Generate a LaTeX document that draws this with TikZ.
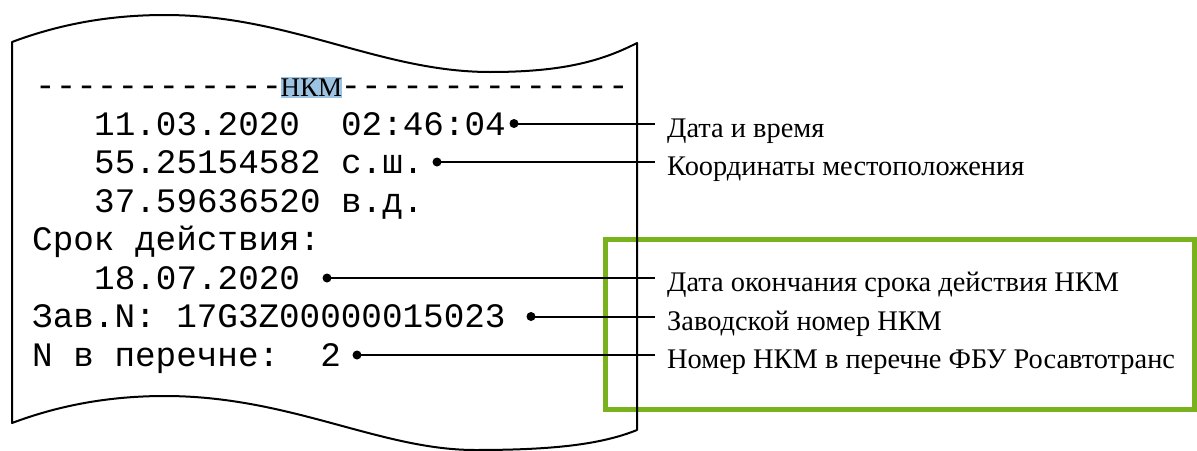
\documentclass[tikz,border=0pt]{standalone}
\usepackage{fontspec}
\setmainfont{Liberation Serif}
\setmonofont{Liberation Mono}
\definecolor{boxgreen}{RGB}{120,178,28}
\definecolor{hlblue}{RGB}{157,195,226}
\tikzset{
  mono/.style={font=\fontsize{34.3}{36}\selectfont\ttfamily, inner sep=0pt, anchor=base west},
  lbl/.style={font=\fontsize{28.4}{30}\selectfont, anchor=west, inner xsep=12pt, inner ysep=0pt, text height=27pt, text depth=0pt},
  dotn/.style={circle, fill, inner sep=0pt, minimum size=9pt},
  conn/.style={line width=2pt},
  paper/.style={line width=2pt, line join=round},
  greenbox/.style={draw=boxgreen, line width=5pt},
  hl/.style={fill=hlblue, font=\fontsize{27}{28}\selectfont, inner xsep=0pt, inner ysep=1.5pt, anchor=base west}
}
\begin{document}
\begin{tikzpicture}[x=1pt,y=-1pt]
\useasboundingbox (0,0) rectangle (1197,450);
% green frame
\draw[greenbox] (605.5,239.5) rectangle (1194,409.5);
% paper outline
\draw[paper] (12,42) .. controls (60,24) and (110,15) .. (165,15)
  .. controls (290,15) and (380,72) .. (490,72)
  .. controls (560,72) and (600,62) .. (637,43)
  -- (637,430)
  .. controls (600,445) and (550,450) .. (475,450)
  .. controls (380,450) and (290,396) .. (165,396)
  .. controls (110,396) and (60,405) .. (12,423) -- cycle;
% header
\node[mono] (dashA) at (35,96.5) {------------};
\node[hl] (nkm) at ([xshift=-2pt]dashA.base east) {НКМ};
\node[mono] (dashB) at ([xshift=-2pt]nkm.base east) {--------------};
% receipt lines
\node[mono] (t1) at (94,135) {11.03.2020~~02:46:04};
\node[mono] (t2) at (94,173.5) {55.25154582~с.ш.};
\node[mono] (t3) at (94,212) {37.59636520~в.д.};
\node[mono] (t4) at (32,250.5) {Срок~действия:};
\node[mono] (t5) at (94,289) {18.07.2020};
\node[mono] (t6) at (32,327.5) {Зав.N:~17G3Z00000015023};
\node[mono] (t7) at (32,366) {N~в~перечне:~~2};
% dots
\node[dotn] (d1) at (514,123.5) {};
\node[dotn] (d2) at (437,162) {};
\node[dotn] (d3) at (327,278) {};
\node[dotn] (d4) at (531,316.5) {};
\node[dotn] (d5) at (357,355) {};
% labels
\node[lbl] (l1) at (655,123.5) {Дата и время};
\node[lbl] (l2) at (655,162) {Координаты местоположения};
\node[lbl] (l5) at (655,278) {Дата окончания срока действия НКМ};
\node[lbl] (l6) at (655,316.5) {Заводской номер НКМ};
\node[lbl] (l7) at (655,355) {Номер НКМ в перечне ФБУ Росавтотранс};
% connectors
\draw[conn] (d1.center) -- (l1.west);
\draw[conn] (d2.center) -- (l2.west);
\draw[conn] (d3.center) -- (l5.west);
\draw[conn] (d4.center) -- (l6.west);
\draw[conn] (d5.center) -- (l7.west);
\end{tikzpicture}
\end{document}
